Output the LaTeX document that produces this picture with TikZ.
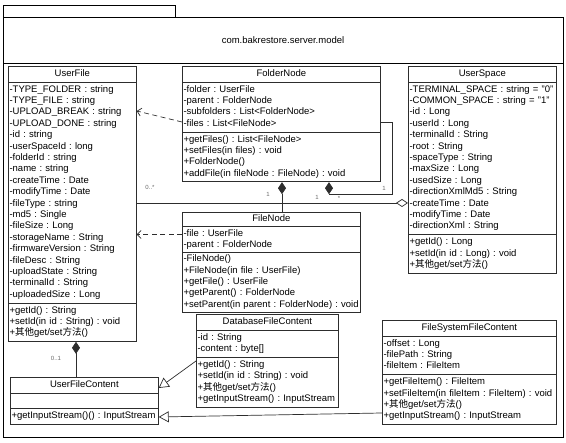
\documentclass[tikz,border=0pt]{standalone}
\usepackage{fontspec}
\setmainfont{Liberation Sans}
\newfontfamily\cjk{Noto Sans CJK SC}
\usepackage{xcolor}
\usepackage{tikz}
\usetikzlibrary{shapes.multipart,arrows.meta}
\definecolor{umlline}{RGB}{45,45,45}
\definecolor{multgray}{RGB}{105,105,105}
\frenchspacing
\newcommand{\classfont}{\fontsize{9.5}{11.4}\selectfont}
\newcommand{\othermethods}{+{\cjk 其他}get/set{\cjk 方法}()}
\newcommand{\classtitle}[1]{\hfill#1\hfill\strut}

\begin{document}
\begin{tikzpicture}[x=1pt,y=-1pt, every node/.style={font=\classfont}]
  \tikzstyle{classbox}=[draw=umlline, line width=0.7pt, rectangle split, rectangle split parts=3, anchor=north west, inner xsep=1.2pt, inner ysep=1.8pt, align=left]
  \tikzstyle{mult}=[font=\fontsize{6}{7}\selectfont, text=multgray, inner sep=0pt]
  \tikzstyle{dep}=[umlline, line width=0.7pt, dash pattern=on 5pt off 3.5pt, -{Straight Barb[length=4pt,width=8pt]}]
  \tikzstyle{comp}=[umlline, line width=0.7pt, {Diamond[length=12pt,width=8pt]}-]
  \tikzstyle{agg}=[umlline, line width=0.7pt, -{Diamond[open,length=12pt,width=8pt]}]
  \tikzstyle{gen}=[umlline, line width=0.7pt, -{Triangle[open,length=10pt,width=11pt]}]
  \useasboundingbox (0,0) rectangle (566,443);
  % package frame
  \draw[line width=0.8pt] (3,5) rectangle (175,17);
  \draw[line width=0.8pt] (3,17) rectangle (563,437);
  \draw[line width=0.8pt] (3,63) -- (563,63);
  \node (pkgname) at (283,40) {com.bakrestore.server.model};
  % classes
  \node[classbox, text width=125.6pt] (uf) at (8,66) {\classtitle{UserFile}
    \nodepart{two}\strut-TYPE\_FOLDER : string\\
    -TYPE\_FILE : string\\
    -UPLOAD\_BREAK : string\\
    -UPLOAD\_DONE : string\\
    -id : string\\
    -userSpaceId : long\\
    -folderId : string\\
    -name : string\\
    -createTime : Date\\
    -modifyTime : Date\\
    -fileType : string\\
    -md5 : Single\\
    -fileSize : Long\\
    -storageName : String\\
    -firmwareVersion : String\\
    -fileDesc : String\\
    -uploadState : String\\
    -terminalId : String\\
    -uploadedSize : Long\strut
    \nodepart{three}\strut+getId() : String\\
    +setId(in id : String) : void\\
    \othermethods\strut};
  \node[classbox, text width=195.6pt] (fdn) at (182,66) {\classtitle{FolderNode}
    \nodepart{two}\strut-folder : UserFile\\
    -parent : FolderNode\\
    -subfolders : List<FolderNode>\\
    -files : List<FileNode>\strut
    \nodepart{three}\strut+getFiles() : List<FileNode>\\
    +setFiles(in files) : void\\
    +FolderNode()\\
    +addFile(in fileNode : FileNode) : void\strut};
  \node[classbox, text width=145.6pt] (us) at (408,66) {\classtitle{UserSpace}
    \nodepart{two}\strut-TERMINAL\_SPACE : string = "0"\\
    -COMMON\_SPACE : string = "1"\\
    -id : Long\\
    -userId : Long\\
    -terminalId : String\\
    -root : String\\
    -spaceType : String\\
    -maxSize : Long\\
    -usedSize : Long\\
    -directionXmlMd5 : String\\
    -createTime : Date\\
    -modifyTime : Date\\
    -directionXml : String\strut
    \nodepart{three}\strut+getId() : Long\\
    +setId(in id : Long) : void\\
    \othermethods\strut};
  \node[classbox, text width=175.6pt, inner ysep=1.1pt] (fln) at (182,212) {\classtitle{FileNode}
    \nodepart{two}\strut-file : UserFile\\
    -parent : FolderNode\strut
    \nodepart{three}\strut-FileNode()\\
    +FileNode(in file : UserFile)\\
    +getFile() : UserFile\\
    +getParent() : FolderNode\\
    +setParent(in parent : FolderNode) : void\strut};
  \node[classbox, text width=139.6pt] (dfc) at (196,314) {\classtitle{DatabaseFileContent}
    \nodepart{two}\strut-id : String\\
    -content : byte[]\strut
    \nodepart{three}\strut+getId() : String\\
    +setId(in id : String) : void\\
    \othermethods\\
    +getInputStream() : InputStream\strut};
  \node[classbox, text width=171.6pt] (fsfc) at (382,320) {\classtitle{FileSystemFileContent}
    \nodepart{two}\strut-offset : Long\\
    -filePath : String\\
    -fileItem : FileItem\strut
    \nodepart{three}\strut+getFileItem() : FileItem\\
    +setFileItem(in fileItem : FileItem) : void\\
    \othermethods\\
    +getInputStream() : InputStream\strut};
  \node[classbox, text width=145.6pt] (ufc) at (10,377) {\classtitle{UserFileContent}
    \nodepart{two}\strut
    \nodepart{three}\strut+getInputStream()() : InputStream\strut};
  % connectors
  \coordinate (fdfiles) at ([yshift=-56pt]fdn.north west);
  \draw[dep] (fdfiles) -- ([yshift=-45pt]uf.north east);
  \coordinate (fnfile) at ([yshift=-22.5pt]fln.north west);
  \draw[dep] (fnfile) -- (fnfile -| uf.east);
  \draw[comp] ([xshift=100pt]fdn.south west) -- ([xshift=100pt]fln.north west);
  \draw[comp] ([xshift=147pt]fdn.south west) -- ++(0,12) -| ([xshift=12pt,yshift=-56pt]fdn.north east) -- ([yshift=-56pt]fdn.north east);
  \coordinate (ufassoc) at ([yshift=-137pt]uf.north east);
  \draw[agg] (ufassoc) -- (ufassoc -| us.west);
  \draw[comp] ([xshift=68pt]uf.south west) -- ([xshift=66pt]ufc.north west);
  \draw[gen] ([yshift=-47pt]dfc.north west) -- ([yshift=-11pt]ufc.north east);
  \draw[gen] ([yshift=-93pt]fsfc.north west) -- ([yshift=-40pt]ufc.north east);
  % multiplicities
  \node[mult] (mufa) at (150,187) {0..*};
  \node[mult] (mfnb) at (268,194) {1};
  \node[mult] (mfna) at (317,197) {1};
  \node[mult] (mloopa) at (339,198) {*};
  \node[mult] (mloopb) at (384,188) {1};
  \node[mult] (mufc) at (56,358) {0..1};
\end{tikzpicture}
\end{document}
